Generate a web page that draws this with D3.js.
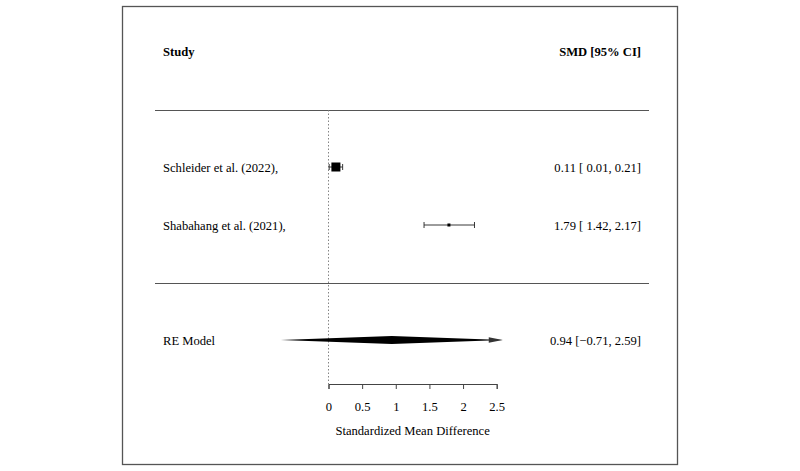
<!DOCTYPE html>
<html>
<head>
<meta charset="utf-8">
<script src="https://cdn.jsdelivr.net/npm/d3@7"></script>
<style>
  body { margin: 0; background: #fff; }
  text { font-family: "Liberation Serif", "Times New Roman", serif; fill: #000; }
</style>
</head>
<body>
<div id="wrapper"></div>
<script>
// data
const studies = ["Schleider et al. (2022),", "Shabahang et al. (2021),"]
const estimates = [0.11, 1.79]
const ciLower = [0.01, 1.42]
const ciUpper = [0.21, 2.17]
const precision = [19.6, 5.2]   // 1 / SE, drives square size
const modelLabel = "RE Model"
const modelEst = 0.94
const modelLower = -0.71
const modelUpper = 2.59
const xTicks = [0, 0.5, 1, 1.5, 2, 2.5]

function drawForest() {
  const width = 800
  const height = 471
  const fontSize = '12.6px'

  const wrapper = d3.select('#wrapper')
    .append('svg')
      .attr('width', width)
      .attr('height', height)

  // frame
  wrapper.append('rect')
      .attr('x', 122.5).attr('y', 6.5)
      .attr('width', 555).attr('height', 458)
      .attr('fill', 'none')
      .attr('stroke', '#555')
      .attr('stroke-width', 1.3)

  const xScale = d3.scaleLinear()
    .domain([0, 2.5])
    .range([328.5, 496.7])

  const rowY = [167, 225]
  const modelY = 340
  const axisY = 384
  const lineLeft = 155
  const lineRight = 649
  const labelX = 163
  const valueX = 641

  const fmt = d3.format('.2f')
  const fmtCI = v => (v < 0 ? '\u2212' + fmt(-v) : ' ' + fmt(v))

  // headers
  wrapper.append('text')
      .attr('x', labelX).attr('y', 56)
      .style('font-weight', 'bold').style('font-size', fontSize)
      .text('Study')
  wrapper.append('text')
      .attr('x', valueX).attr('y', 56)
      .attr('text-anchor', 'end')
      .style('font-weight', 'bold').style('font-size', fontSize)
      .text('SMD [95% CI]')

  // separator lines
  ;[110, 283].forEach(y => {
    wrapper.append('line')
        .attr('x1', lineLeft).attr('x2', lineRight)
        .attr('y1', y + 0.5).attr('y2', y + 0.5)
        .attr('stroke', '#555').attr('stroke-width', 1.1)
  })

  // reference line at 0
  wrapper.append('line')
      .attr('x1', xScale(0)).attr('x2', xScale(0))
      .attr('y1', 110).attr('y2', axisY)
      .attr('stroke', '#777').attr('stroke-width', 0.9)
      .attr('stroke-dasharray', '1.5,2')

  const sizeScale = d3.scaleLinear()
    .domain(d3.extent(precision))
    .range([3, 9])

  const rows = wrapper.append('g').attr('class', 'studies')

  studies.forEach((s, i) => {
    const y = rowY[i]
    const g = rows.append('g')
    g.append('text')
        .attr('x', labelX).attr('y', y + 4.5)
        .style('font-size', fontSize)
        .text(s)
    g.append('text')
        .attr('x', valueX).attr('y', y + 4.5)
        .attr('text-anchor', 'end')
        .style('font-size', fontSize)
        .attr('xml:space', 'preserve')
        .text(`${fmt(estimates[i])} [${fmtCI(ciLower[i])}, ${fmt(ciUpper[i])}]`)
    // CI line with end caps
    g.append('line')
        .attr('x1', xScale(ciLower[i])).attr('x2', xScale(ciUpper[i]))
        .attr('y1', y).attr('y2', y)
        .attr('stroke', '#222').attr('stroke-width', 0.9)
    ;[ciLower[i], ciUpper[i]].forEach(v => {
      g.append('line')
          .attr('x1', xScale(v)).attr('x2', xScale(v))
          .attr('y1', y - 3).attr('y2', y + 3)
          .attr('stroke', '#222').attr('stroke-width', 0.9)
    })
    const sz = sizeScale(precision[i])
    g.append('rect')
        .attr('x', xScale(estimates[i]) - sz / 2)
        .attr('y', y - sz / 2)
        .attr('width', sz).attr('height', sz)
        .attr('fill', '#000')
  })

  // summary diamond
  const dh = 4
  const diamond = [
    [xScale(modelLower), modelY],
    [xScale(modelEst), modelY - dh],
    [xScale(modelUpper), modelY],
    [xScale(modelEst), modelY + dh],
  ]
  wrapper.append('path')
      .attr('d', d3.line()(diamond) + 'Z')
      .attr('fill', '#000')
  // arrow tip at the right end
  const tip = xScale(modelUpper)
  wrapper.append('path')
      .attr('d', d3.line()([[tip - 14, modelY - 2.8], [tip, modelY], [tip - 14, modelY + 2.8]]) + 'Z')
      .attr('fill', '#333')

  wrapper.append('text')
      .attr('x', labelX).attr('y', modelY + 4.5)
      .style('font-size', fontSize)
      .text(modelLabel)
  wrapper.append('text')
      .attr('x', valueX).attr('y', modelY + 4.5)
      .attr('text-anchor', 'end')
      .style('font-size', fontSize)
      .text(`${fmt(modelEst)} [${fmtCI(modelLower).trim()}, ${fmt(modelUpper)}]`)

  // x axis
  const xAxis = d3.axisBottom(xScale)
    .tickValues(xTicks)
    .tickFormat(d3.format('~g'))
    .tickSize(5)
    .tickPadding(13)

  const axisG = wrapper.append('g')
      .attr('transform', `translate(0, ${axisY})`)
      .call(xAxis)
  axisG.select('.domain').attr('stroke', '#444')
  axisG.selectAll('.tick line').attr('stroke', '#444')
  axisG.selectAll('.tick text')
      .style('font-family', '"Liberation Serif", serif')
      .style('font-size', fontSize)
      .attr('fill', '#000')

  wrapper.append('text')
      .attr('x', (xScale(0) + xScale(2.5)) / 2)
      .attr('y', 435)
      .attr('text-anchor', 'middle')
      .style('font-size', fontSize)
      .text('Standardized Mean Difference')
}
drawForest()
</script>
</body>
</html>
